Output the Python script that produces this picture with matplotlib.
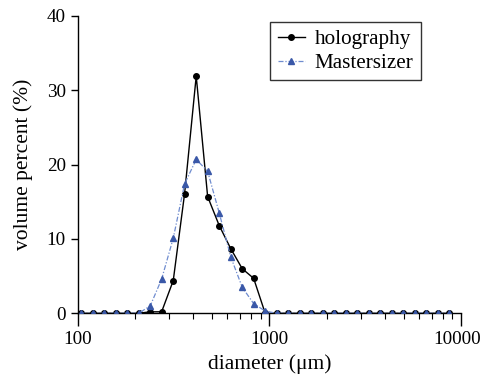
"""Particle size distribution: holography vs Mastersizer."""

import matplotlib
matplotlib.use("Agg")
import matplotlib.pyplot as plt
import matplotlib.transforms as mtransforms
from matplotlib.ticker import LogLocator, NullFormatter, FixedLocator

# diameter bins (um)
diameter = [104, 120, 137, 158, 181, 208, 239, 274, 315, 361, 415, 476,
            547, 628, 721, 827, 950, 1090, 1252, 1437, 1650, 1894, 2174,
            2496, 2866, 3290, 3777, 4336, 4978, 5715, 6561, 7532, 8647]

holography = [0, 0, 0, 0, 0, 0, 0.2, 0.2, 4.4, 16.1, 31.9, 15.7,
              11.8, 8.7, 6.0, 4.7, 0, 0, 0, 0, 0, 0, 0,
              0, 0, 0, 0, 0, 0, 0, 0, 0, 0]

mastersizer = [0, 0, 0, 0, 0, 0, 1.0, 4.6, 10.1, 17.4, 20.7, 19.1,
               13.5, 7.6, 3.5, 1.3, 0.3, 0, 0, 0, 0, 0, 0,
               0, 0, 0, 0, 0, 0, 0, 0, 0, 0]

y_ticks = [0, 10, 20, 30, 40]
x_ticks = [100, 1000, 10000]

plt.rcParams["font.family"] = ["Liberation Serif", "DejaVu Serif"]

fig = plt.figure(figsize=(4.84, 3.79), dpi=100)
ax = fig.add_axes([0.1605, 0.1734, 0.7925, 0.7846])

ax.plot(diameter, holography, color="black", lw=1.0, marker="o",
        markersize=4, label="holography", zorder=3)
ax.plot(diameter, mastersizer, color="#6f8ccf", lw=0.9, ls=(0, (4, 1.5, 1, 1.5)),
        marker="^", markersize=4.5, markerfacecolor="#3a58a8",
        markeredgecolor="#3a58a8", label="Mastersizer", zorder=4)

ax.set_xscale("log")
ax.set_xlim(100, 10000)
ax.set_ylim(0, 40)
ax.xaxis.set_major_locator(FixedLocator(x_ticks))
ax.set_xticklabels([str(v) for v in x_ticks])
ax.xaxis.set_minor_locator(LogLocator(base=10, subs=range(2, 10)))
ax.xaxis.set_minor_formatter(NullFormatter())
ax.set_yticks(y_ticks)

for side in ("top", "right"):
    ax.spines[side].set_visible(False)
ax.spines["left"].set_linewidth(1.0)
ax.spines["bottom"].set_linewidth(1.0)

ax.tick_params(axis="x", which="major", direction="out", length=9, width=1,
               labelsize=13.8, pad=4)
ax.tick_params(axis="x", which="minor", direction="out", length=4, width=0.8)
ax.tick_params(axis="y", direction="out", length=5, width=1, labelsize=13.8)

# the last label sits a little left of its tick, so it stays inside the figure
last = ax.get_xticklabels()[-1]
last.set_transform(last.get_transform() +
                   mtransforms.ScaledTranslation(-3 / 72, 0, fig.dpi_scale_trans))

ax.set_xlabel("diameter (μm)", fontsize=15.5, labelpad=4)
ax.set_ylabel("volume percent (%)", fontsize=15.5, labelpad=10)

leg = ax.legend(loc="upper left", bbox_to_anchor=(0.502, 0.98), fontsize=15.2,
                frameon=True, fancybox=False, edgecolor="black",
                handlelength=1.3, handletextpad=0.45, borderpad=0.35,
                labelspacing=0.2, borderaxespad=0)
leg.get_frame().set_linewidth(1.0)

fig.savefig("out.png", dpi=100)
